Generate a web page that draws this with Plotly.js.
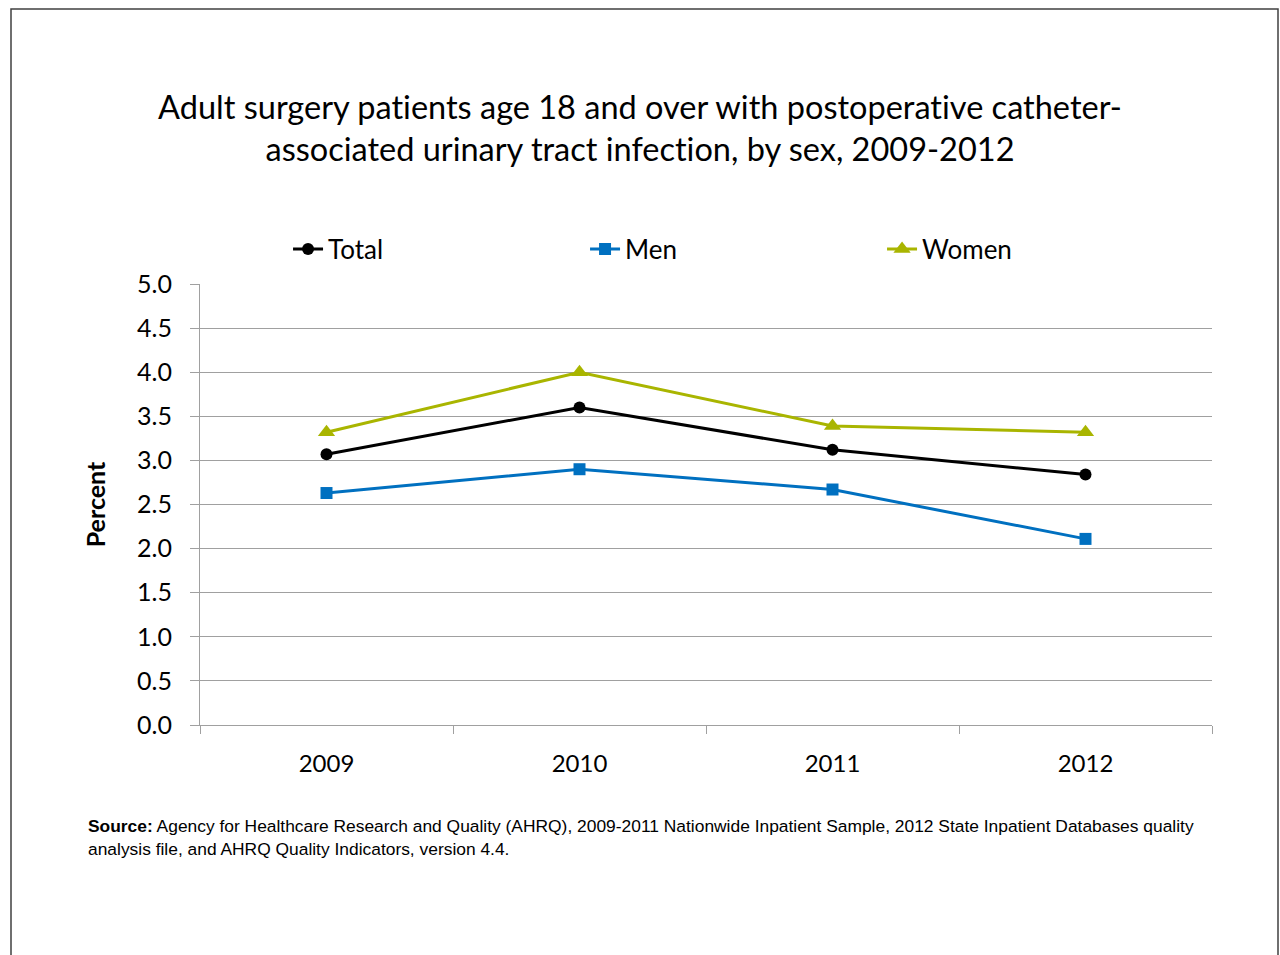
<!DOCTYPE html>
<html>
<head>
<meta charset="utf-8">
<script src="https://cdn.plot.ly/plotly-3.0.1.min.js"></script>
<style>
  html, body { margin: 0; padding: 0; background: #fff; }
  #chart { width: 1280px; height: 955px; }
  #chart text, #chart tspan {
    font-variant-ligatures: none !important;
    font-feature-settings: "liga" 0, "clig" 0, "dlig" 0 !important;
  }
</style>
</head>
<body>
<div id="chart"></div>
<script>
const years = ["2009", "2010", "2011", "2012"];
const totalValues = [3.07, 3.60, 3.12, 2.84];
const menValues = [2.63, 2.90, 2.67, 2.11];
const womenValues = [3.32, 4.00, 3.39, 3.32];
const yTickValues = [0, 0.5, 1, 1.5, 2, 2.5, 3, 3.5, 4, 4.5, 5];
const yTickLabels = ["0.0", "0.5", "1.0", "1.5", "2.0", "2.5", "3.0", "3.5", "4.0", "4.5", "5.0"];

const mainFont = "Lato, 'Open Sans', sans-serif";

const traces = [
  {
    x: years, y: totalValues, name: "Total", type: "scatter", mode: "lines+markers",
    line: { color: "#000000", width: 3 },
    marker: { symbol: "circle", size: 12, color: "#000000" }
  },
  {
    x: years, y: menValues, name: "Men", type: "scatter", mode: "lines+markers",
    line: { color: "#0070C0", width: 3 },
    marker: { symbol: "square", size: 12, color: "#0070C0" }
  },
  {
    x: years, y: womenValues, name: "Women", type: "scatter", mode: "lines+markers",
    line: { color: "#A9B500", width: 3 },
    marker: { symbol: "triangle-up", size: 15, color: "#A9B500" }
  }
];

const layout = {
  width: 1280, height: 955,
  paper_bgcolor: "#ffffff", plot_bgcolor: "#ffffff",
  margin: { l: 200, r: 68, t: 284, b: 230 },
  font: { family: mainFont, color: "#000000" },
  title: {
    text: "Adult surgery patients age 18 and over with postoperative catheter-<br>associated urinary tract infection, by sex, 2009-2012",
    font: { family: mainFont, size: 32.5, color: "#000000" },
    x: 0.5, xref: "container", xanchor: "center",
    y: 1 - 119 / 955, yref: "container", yanchor: "middle"
  },
  showlegend: true,
  legend: {
    orientation: "h",
    x: 0.087, xanchor: "left", xref: "paper",
    y: 1 + 35 / 441, yanchor: "middle", yref: "paper",
    font: { family: mainFont, size: 26, color: "#000000" },
    entrywidth: 252, entrywidthmode: "pixels",
    bgcolor: "rgba(0,0,0,0)"
  },
  xaxis: {
    type: "category",
    range: [-0.5, 3.5],
    showgrid: false,
    showline: true, linecolor: "#A0A0A0", linewidth: 1,
    ticks: "outside", tickson: "boundaries", ticklen: 8, tickcolor: "#A0A0A0",
    ticklabelstandoff: 17,
    tickfont: { family: mainFont, size: 24, color: "#000000" },
    fixedrange: true
  },
  yaxis: {
    range: [0, 5],
    tickvals: yTickValues, ticktext: yTickLabels,
    showgrid: true, gridcolor: "#A0A0A0", gridwidth: 1,
    showline: true, linecolor: "#A0A0A0", linewidth: 1,
    ticks: "outside", ticklen: 9, tickcolor: "#A0A0A0",
    ticklabelstandoff: 13,
    tickfont: { family: mainFont, size: 25, color: "#000000" },
    zeroline: false,
    title: { text: "<b>Percent</b>", font: { family: mainFont, size: 25, color: "#000000" }, standoff: 24 },
    fixedrange: true
  },
  annotations: [
    {
      text: "<b>Source:</b> Agency for Healthcare Research and Quality (AHRQ), 2009-2011 Nationwide Inpatient Sample, 2012 State Inpatient Databases quality<br>analysis file, and AHRQ Quality Indicators, version 4.4.",
      xref: "paper", yref: "paper",
      x: (86 - 200) / 1012, y: (725 - 814) / 441,
      xanchor: "left", yanchor: "top", align: "left",
      showarrow: false,
      font: { family: "'Liberation Sans', Arial, sans-serif", size: 17.4, color: "#000000" }
    }
  ],
  shapes: [
    {
      type: "rect", xref: "paper", yref: "paper",
      x0: (11 - 200) / 1012, x1: (1278 - 200) / 1012,
      y0: (725 - 970) / 441, y1: (725 - 9) / 441,
      line: { color: "#404040", width: 1.5 }, fillcolor: "rgba(0,0,0,0)", layer: "below"
    }
  ]
};

Plotly.newPlot("chart", traces, layout, { displayModeBar: false, staticPlot: true });
</script>
</body>
</html>
